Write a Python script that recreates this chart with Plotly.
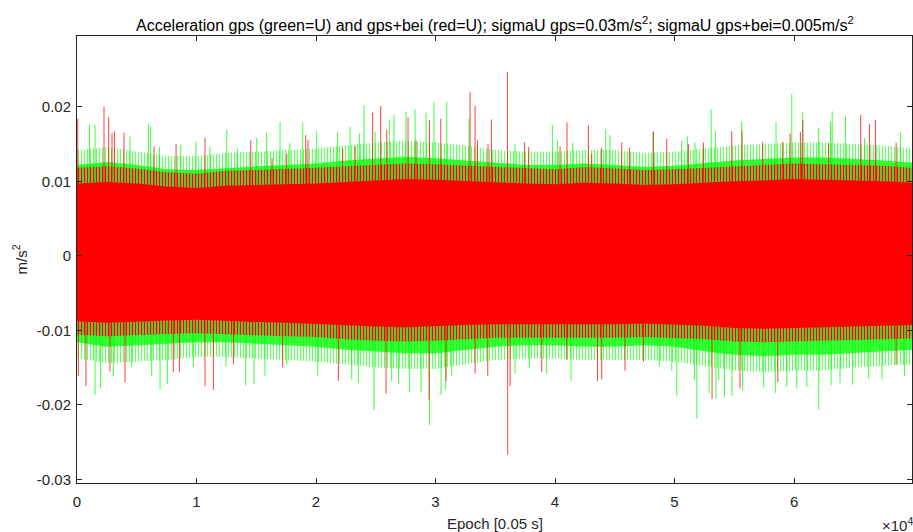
import plotly.graph_objects as go

# ---------------- data ----------------
# dense-band envelopes (epoch, m/s^2)
env_epoch = [0, 2500, 5000, 7500, 10000, 12500, 15000, 17500, 20000, 22500,
             25000, 27500, 30000, 32500, 35000, 37500, 40000, 42500, 45000, 47500,
             50000, 52500, 55000, 57500, 60000, 62500, 65000, 67500, 69870]
# outer (sparse) fringe of the green series
green_fringe_top = [0.0142, 0.0146, 0.0140, 0.0134, 0.0134, 0.0138, 0.0140, 0.0142, 0.0144, 0.0148,
                    0.0152, 0.0154, 0.0152, 0.0148, 0.0142, 0.0140, 0.0140, 0.0142, 0.0142, 0.0138,
                    0.0140, 0.0144, 0.0148, 0.0150, 0.0152, 0.0152, 0.0150, 0.0148, 0.0144]
green_fringe_bot = [-0.0138, -0.0144, -0.0142, -0.0140, -0.0136, -0.0136, -0.0138, -0.0140, -0.0142, -0.0146,
                    -0.0150, -0.0152, -0.0152, -0.0146, -0.0140, -0.0138, -0.0138, -0.0140, -0.0140, -0.0140,
                    -0.0142, -0.0148, -0.0154, -0.0156, -0.0154, -0.0154, -0.0150, -0.0148, -0.0146]
# dense part of the green series
green_top = [0.0122, 0.0126, 0.0122, 0.0116, 0.0115, 0.0118, 0.0120, 0.0122, 0.0124, 0.0128,
             0.0131, 0.0133, 0.0131, 0.0128, 0.0124, 0.0122, 0.0122, 0.0124, 0.0122, 0.0119,
             0.0121, 0.0125, 0.0128, 0.0130, 0.0132, 0.0132, 0.0130, 0.0128, 0.0125]
green_bot = [-0.0116, -0.0122, -0.0120, -0.0118, -0.0116, -0.0116, -0.0118, -0.0120, -0.0122, -0.0126,
             -0.0129, -0.0131, -0.0131, -0.0126, -0.0122, -0.0120, -0.0120, -0.0122, -0.0122, -0.0120,
             -0.0122, -0.0128, -0.0133, -0.0135, -0.0133, -0.0133, -0.0130, -0.0128, -0.0126]
# outer (sparse) fringe of the red series
red_fringe_top = [0.0118, 0.0120, 0.0117, 0.0112, 0.0110, 0.0114, 0.0115, 0.0116, 0.0118, 0.0120,
                  0.0122, 0.0124, 0.0123, 0.0121, 0.0120, 0.0117, 0.0116, 0.0119, 0.0117, 0.0115,
                  0.0116, 0.0118, 0.0121, 0.0122, 0.0124, 0.0123, 0.0122, 0.0121, 0.0118]
red_fringe_bot = [-0.0106, -0.0108, -0.0107, -0.0105, -0.0104, -0.0105, -0.0107, -0.0108, -0.0109, -0.0112,
                  -0.0114, -0.0115, -0.0114, -0.0112, -0.0110, -0.0109, -0.0109, -0.0110, -0.0110, -0.0109,
                  -0.0110, -0.0112, -0.0115, -0.0116, -0.0115, -0.0115, -0.0113, -0.0112, -0.0111]
# solid core of the red series
red_top = [0.0097, 0.0099, 0.0097, 0.0093, 0.0091, 0.0094, 0.0095, 0.0096, 0.0097, 0.0099,
           0.0101, 0.0103, 0.0102, 0.0100, 0.0099, 0.0097, 0.0096, 0.0098, 0.0097, 0.0095,
           0.0096, 0.0098, 0.0100, 0.0101, 0.0103, 0.0102, 0.0101, 0.0100, 0.0098]
red_bot = [-0.0088, -0.0090, -0.0089, -0.0087, -0.0086, -0.0087, -0.0089, -0.0090, -0.0091, -0.0093,
           -0.0095, -0.0096, -0.0095, -0.0093, -0.0092, -0.0091, -0.0091, -0.0092, -0.0092, -0.0091,
           -0.0092, -0.0094, -0.0097, -0.0098, -0.0097, -0.0097, -0.0095, -0.0094, -0.0093]

# individual spikes (epoch, value)
green_spike_epoch = [1040, 1510, 4440, 5970, 6170, 6900, 8680, 9960, 11130, 12530,
                     13420, 15040, 15870, 16990, 17820, 18890, 20060, 21790, 22850, 23630,
                     24020, 24940, 26140, 26530, 27530, 28290, 29210, 29870, 30940, 32800,
                     36650, 39780, 40200, 41480, 44240, 44600, 48200, 50600, 51080, 51720,
                     53060, 53420, 55620, 58490, 59810, 60730, 62040, 63050, 63190, 64300,
                     65900, 68900,
                     1510, 1980, 3040, 4580, 6250, 6950, 7560, 9740, 12470, 14120,
                     14810, 15730, 17550, 20140, 22990, 23540, 24850, 26330, 26900, 27810,
                     28790, 29490, 30460, 30850, 31360, 36650, 37850, 39300, 41340, 48730,
                     49770, 50190, 51660, 51860, 52900, 53470, 53700, 54180, 54810, 55700,
                     57460, 58440, 59390, 60230, 61070, 62070, 63100, 63850, 64910, 66250,
                     67360, 69240]
green_spike_value = [0.0176, 0.0176, 0.0160, 0.0177, 0.0173, 0.0146, 0.0149, 0.0153, 0.0146, 0.0169,
                     0.0144, 0.0158, 0.0166, 0.0180, 0.0151, 0.0179, 0.0167, 0.0167, 0.0173, 0.0164,
                     0.0202, 0.0166, 0.0183, 0.0189, 0.0193, 0.0196, 0.0192, 0.0206, 0.0207, 0.0184,
                     0.0150, 0.0176, 0.0155, 0.0152, 0.0170, 0.0162, 0.0166, 0.0154, 0.0160, 0.0152,
                     0.0196, 0.0168, 0.0180, 0.0180, 0.0217, 0.0193, 0.0172, 0.0180, 0.0194, 0.0188,
                     0.0158, 0.0166,
                     -0.0187, -0.0178, -0.0162, -0.0150, -0.0162, -0.0179, -0.0172, -0.0149, -0.0149, -0.0174,
                     -0.0172, -0.0161, -0.0146, -0.0161, -0.0166, -0.0171, -0.0207, -0.0168, -0.0172, -0.0183,
                     -0.0183, -0.0227, -0.0187, -0.0180, -0.0161, -0.0158, -0.0150, -0.0158, -0.0168, -0.0149,
                     -0.0154, -0.0188, -0.0167, -0.0218, -0.0185, -0.0192, -0.0167, -0.0190, -0.0188, -0.0181,
                     -0.0177, -0.0184, -0.0176, -0.0178, -0.0176, -0.0207, -0.0174, -0.0171, -0.0173, -0.0165,
                     -0.0166, -0.0161]

red_spike_epoch = [60, 2260, 2650, 2930, 3130, 3930, 6450, 8290, 10710, 14540,
                   16320, 17550, 19140, 19330, 22230, 23270, 24740, 25410, 25920, 27700,
                   28370, 29490, 30440, 32890, 33310, 33510, 34390, 34680, 36020, 37440,
                   37800, 40420, 41000, 42790, 43070, 43900, 45580, 46230, 48230, 49350,
                   51160, 52420, 54790, 55650, 57380, 59050, 59670, 60530, 60730, 62900,
                   65580, 66310, 66810, 68540,
                   110, 750, 2760, 4020, 8060, 8570, 10710, 11410, 13090, 17210,
                   21870, 25860, 29460, 30880, 33310, 34370, 36040, 36240, 38890, 40980,
                   43550, 43910, 45860, 47400, 53140, 55480, 58640, 68540]
red_spike_value = [0.0184, 0.0200, 0.0186, 0.0165, 0.0167, 0.0165, 0.0147, 0.0150, 0.0158, 0.0155,
                   0.0131, 0.0137, 0.0162, 0.0155, 0.0144, 0.0147, 0.0192, 0.0201, 0.0169, 0.0186,
                   0.0155, 0.0182, 0.0184, 0.0220, 0.0201, 0.0155, 0.0150, 0.0183, 0.0247, 0.0152,
                   0.0146, 0.0147, 0.0179, 0.0175, 0.0137, 0.0145, 0.0152, 0.0145, 0.0167, 0.0157,
                   0.0150, 0.0152, 0.0167, 0.0168, 0.0153, 0.0153, 0.0164, 0.0166, 0.0182, 0.0151,
                   0.0189, 0.0177, 0.0182, 0.0152,
                   -0.0161, -0.0175, -0.0155, -0.0170, -0.0156, -0.0156, -0.0175, -0.0180, -0.0146, -0.0150,
                   -0.0168, -0.0185, -0.0193, -0.0168, -0.0158, -0.0161, -0.0267, -0.0175, -0.0156, -0.0140,
                   -0.0168, -0.0166, -0.0154, -0.0142, -0.0192, -0.0178, -0.0170, -0.0146]

x_tick_vals = [0, 10000, 20000, 30000, 40000, 50000, 60000]
x_tick_text = ["0", "1", "2", "3", "4", "5", "6"]
y_tick_vals = [0.02, 0.01, 0, -0.01, -0.02, -0.03]
y_tick_text = ["0.02", "0.01", "0", "-0.01", "-0.02", "-0.03"]

GREEN = "#00ff00"
RED = "#ff0000"
AX = "#262626"
FONT = "Liberation Sans, Arial, Helvetica, sans-serif"


def band(epochs, top, bot):
    xs = list(epochs) + list(reversed(epochs))
    ys = list(top) + list(reversed(bot))
    return xs, ys


def spikes(epochs, values):
    xs, ys = [], []
    for e, v in zip(epochs, values):
        xs += [e, e, None]
        ys += [0, v, None]
    return xs, ys


def add_band(fig, top, bot, color, solidity=None, size=4):
    bx, by = band(env_epoch, top, bot)
    kw = dict(x=bx, y=by, fill="toself", mode="lines", line=dict(width=0),
              hoverinfo="skip", showlegend=False)
    if solidity is None:
        kw["fillcolor"] = color
    else:
        kw["fillcolor"] = "rgba(0,0,0,0)"
        kw["fillpattern"] = dict(shape="|", fgcolor=color, bgcolor="rgba(0,0,0,0)",
                                 size=size, solidity=solidity, fgopacity=1)
    fig.add_trace(go.Scatter(**kw))


fig = go.Figure()

# green series (drawn first, underneath)
add_band(fig, green_fringe_top, green_fringe_bot, "#66ff66", solidity=0.4, size=3)
add_band(fig, green_top, green_bot, GREEN, solidity=0.75, size=2)
sx, sy = spikes(green_spike_epoch, green_spike_value)
fig.add_trace(go.Scatter(x=sx, y=sy, mode="lines", line=dict(color=GREEN, width=1),
                         opacity=0.75, hoverinfo="skip", showlegend=False))

# red series (on top)
add_band(fig, red_fringe_top, red_fringe_bot, RED, solidity=0.5, size=3)
add_band(fig, red_top, red_bot, RED)
sx, sy = spikes(red_spike_epoch, red_spike_value)
fig.add_trace(go.Scatter(x=sx, y=sy, mode="lines", line=dict(color=RED, width=1),
                         opacity=0.75, hoverinfo="skip", showlegend=False))

axis_common = dict(showline=True, linecolor=AX, linewidth=1, mirror="ticks",
                   ticks="inside", ticklen=5, tickcolor=AX, tickwidth=1,
                   showgrid=False, zeroline=False,
                   tickfont=dict(family=FONT, size=15, color=AX))

fig.update_xaxes(range=[0, 69870], tickmode="array", tickvals=x_tick_vals,
                 ticktext=x_tick_text, ticklabelstandoff=5, **axis_common)
fig.update_yaxes(range=[-0.0305, 0.0295], tickmode="array", tickvals=y_tick_vals,
                 ticktext=y_tick_text, ticklabelstandoff=2, **axis_common)

fig.update_layout(
    width=913, height=532,
    margin=dict(l=77, r=1, t=36, b=49),
    plot_bgcolor="white", paper_bgcolor="white",
    showlegend=False,
    annotations=[
        dict(text="Acceleration gps (green=U) and gps+bei (red=U); sigmaU gps=0.03m/s<sup>2</sup>; "
                  "sigmaU gps+bei=0.005m/s<sup>2</sup>",
             xref="paper", yref="paper", x=0.5, y=1, yshift=0, xanchor="center", yanchor="bottom",
             showarrow=False, font=dict(family=FONT, size=16, color="#000000")),
        dict(text="Epoch [0.05 s]", xref="paper", yref="paper", x=0.5, y=0, yshift=-30,
             xanchor="center", yanchor="top", showarrow=False,
             font=dict(family=FONT, size=15, color=AX)),
        dict(text="m/s<sup>2</sup>", xref="paper", yref="paper", x=0, xshift=-57, y=0.5,
             xanchor="center", yanchor="middle", textangle=-90, showarrow=False,
             font=dict(family=FONT, size=15, color=AX)),
        dict(text="×10<sup>4</sup>", xref="paper", yref="paper", x=1, xshift=3, y=0, yshift=-30,
             xanchor="right", yanchor="top", showarrow=False,
             font=dict(family=FONT, size=15, color=AX)),
    ],
)

fig.write_html("out.html", config={"displayModeBar": False},
               post_script="document.body.style.margin='0';document.body.style.overflow='hidden';")
